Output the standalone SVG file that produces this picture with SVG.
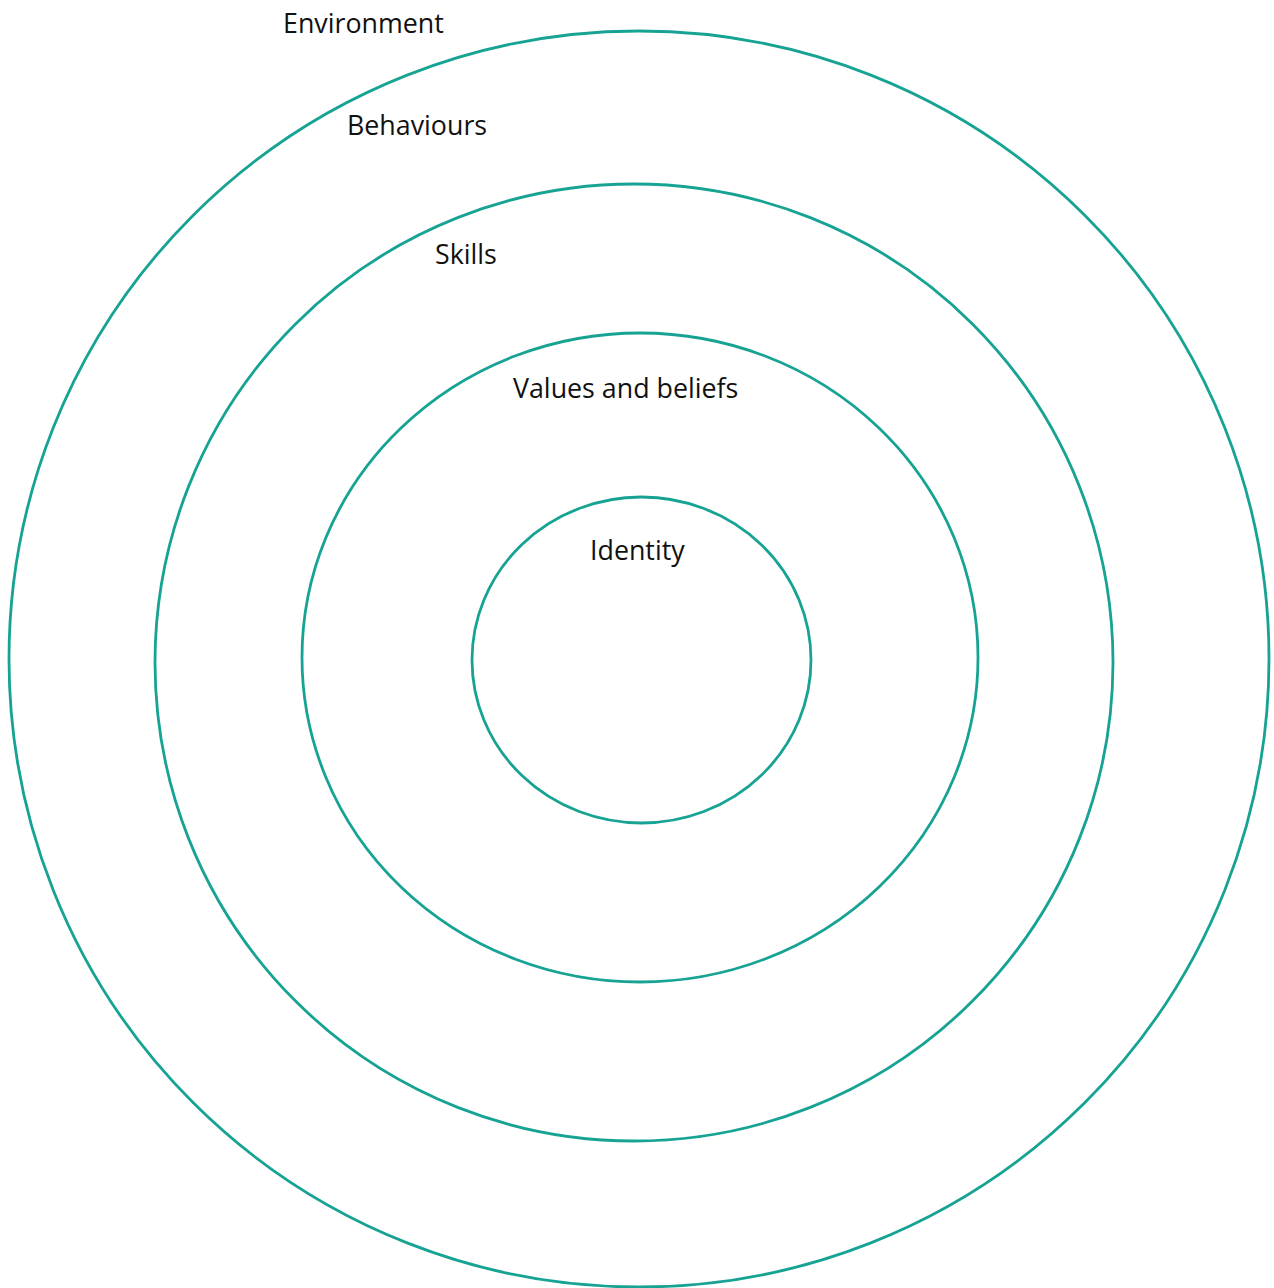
<svg xmlns="http://www.w3.org/2000/svg" width="1274" height="1288" viewBox="0 0 1274 1288">
<style>
.ring{fill:none;stroke:#17a393;stroke-width:2.8}
.lbl{font-family:"Open Sans","Noto Sans",sans-serif;font-size:26.8px;fill:#111}
</style>
<rect width="1274" height="1288" fill="#fff"/>
<g id="environment"><ellipse class="ring" cx="639" cy="659" rx="630" ry="628"/><text class="lbl" x="283" y="33">Environment</text></g>
<g id="behaviours"><ellipse class="ring" cx="634" cy="662.5" rx="479" ry="478.5"/><text class="lbl" x="347" y="135">Behaviours</text></g>
<g id="skills"><text class="lbl" x="435" y="264">Skills</text></g>
<g id="values"><ellipse class="ring" cx="640" cy="657.5" rx="338" ry="324.5"/><text class="lbl" x="513" y="398">Values and beliefs</text></g>
<g id="identity"><ellipse class="ring" cx="641.5" cy="660" rx="169.5" ry="163"/><text class="lbl" x="590" y="560">Identity</text></g>
<g id="connectors"/>
</svg>
